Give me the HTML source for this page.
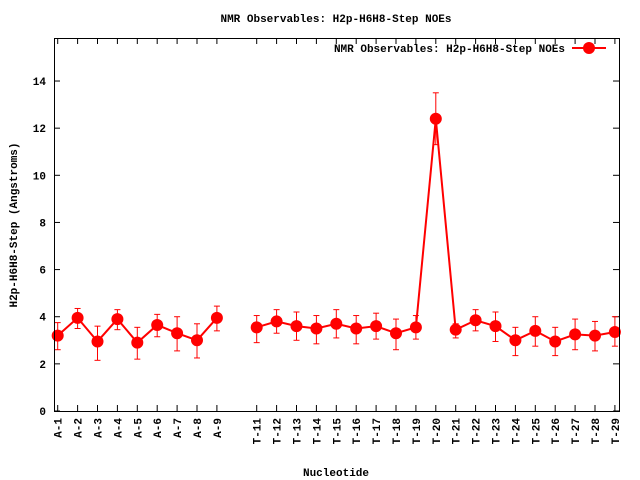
<!DOCTYPE html>
<html><head><meta charset="utf-8"><style>
html,body{margin:0;padding:0;background:#fff}
svg{display:block}
text{font-family:"Liberation Mono","DejaVu Sans Mono",monospace;font-weight:bold;font-size:11px;fill:#000}
</style></head><body>
<svg id="s" width="640" height="480" viewBox="0 0 640 480" xmlns="http://www.w3.org/2000/svg">
<rect x="0" y="0" width="640" height="480" fill="#fff"/>
<text x="336" y="22" text-anchor="middle">NMR Observables: H2p-H6H8-Step NOEs</text>
<text x="336" y="476" text-anchor="middle">Nucleotide</text>
<text transform="translate(17,225) rotate(-90)" text-anchor="middle">H2p-H6H8-Step (Angstroms)</text>
<text x="565" y="52" text-anchor="end">NMR Observables: H2p-H6H8-Step NOEs</text>
<line x1="572" y1="48" x2="606" y2="48" stroke="#f00" stroke-width="2"/>
<circle cx="589" cy="48" r="6" fill="#f00"/>
<g id="g"></g>
<rect x="54.5" y="38.5" width="565" height="373" fill="none" stroke="#000" stroke-width="1"/>
</svg>
<script>
var g=document.getElementById('g'),NS='http://www.w3.org/2000/svg';
function el(t,a,txt){var e=document.createElementNS(NS,t);for(var k in a)e.setAttribute(k,a[k]);if(txt)e.textContent=txt;g.appendChild(e);return e;}
function Y(v){return 411-23.57*v;}
function X(i){return 57.7+(i-1)*19.9;}
for(var v=0;v<=14;v+=2){var y=Y(v);el('line',{x1:54,y1:y,x2:60,y2:y,stroke:'#000'});el('line',{x1:619,y1:y,x2:613,y2:y,stroke:'#000'});
el('text',{x:46,y:y+4,'text-anchor':'end'},String(v));}
var d=[[1,'A-1',3.2,3.75,2.6],[2,'A-2',3.95,4.35,3.5],[3,'A-3',2.95,3.6,2.15],[4,'A-4',3.9,4.3,3.45],[5,'A-5',2.9,3.55,2.2],[6,'A-6',3.65,4.1,3.15],[7,'A-7',3.3,4.0,2.55],[8,'A-8',3.0,3.7,2.25],[9,'A-9',3.95,4.45,3.4],
[11,'T-11',3.55,4.05,2.9],[12,'T-12',3.8,4.3,3.3],[13,'T-13',3.6,4.2,3.0],[14,'T-14',3.5,4.05,2.85],[15,'T-15',3.7,4.3,3.1],[16,'T-16',3.5,4.05,2.85],[17,'T-17',3.6,4.15,3.05],[18,'T-18',3.3,3.9,2.6],[19,'T-19',3.55,4.05,3.05],[20,'T-20',12.4,13.5,11.3],[21,'T-21',3.45,3.7,3.1],[22,'T-22',3.85,4.3,3.4],[23,'T-23',3.6,4.2,2.95],[24,'T-24',3.0,3.55,2.35],[25,'T-25',3.4,4.0,2.75],[26,'T-26',2.95,3.55,2.35],[27,'T-27',3.25,3.9,2.6],[28,'T-28',3.2,3.8,2.55],[29,'T-29',3.35,4.0,2.75]];
var p1=[],p2=[];
d.forEach(function(r){var x=X(r[0]);
el('line',{x1:x,y1:411,x2:x,y2:405,stroke:'#000'});el('line',{x1:x,y1:38,x2:x,y2:44,stroke:'#000'});
el('text',{transform:'translate('+(x+4)+',418) rotate(-90)','text-anchor':'end'},r[1]);
(r[0]<10?p1:p2).push(x+','+Y(r[2]));});
el('polyline',{points:p1.join(' '),fill:'none',stroke:'#f00','stroke-width':2});
el('polyline',{points:p2.join(' '),fill:'none',stroke:'#f00','stroke-width':2});
d.forEach(function(r){var x=X(r[0]);
el('line',{x1:x,y1:Y(r[3]),x2:x,y2:Y(r[4]),stroke:'#f00'});
el('line',{x1:x-3,y1:Y(r[3]),x2:x+3,y2:Y(r[3]),stroke:'#f00'});
el('line',{x1:x-3,y1:Y(r[4]),x2:x+3,y2:Y(r[4]),stroke:'#f00'});
el('circle',{cx:x,cy:Y(r[2]),r:6,fill:'#f00'});});
</script>
</body></html>
